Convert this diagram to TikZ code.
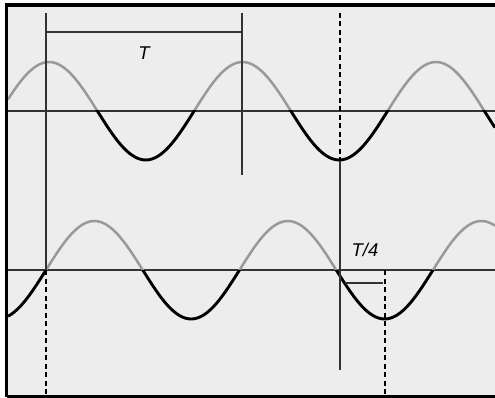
\documentclass[tikz,border=0pt]{standalone}
\usepackage{fontspec}
\setmainfont{Liberation Sans}
\usetikzlibrary{calc}

\definecolor{screenbg}{HTML}{EDEDED}
\definecolor{wavegray}{HTML}{999999}

\begin{document}
\begin{tikzpicture}[
    x=1pt, y=-1pt,
    frame/.style={draw=black, line width=3pt},
    axis/.style={draw=black!80, line width=1.3pt},
    marker/.style={draw=black!80, line width=1.3pt},
    guide/.style={draw=black, line width=1.3pt, dash pattern=on 5pt off 3.5pt},
    upper/.style={draw=wavegray, line width=2.5pt},
    lower/.style={draw=black, line width=2.9pt},
    lbl/.style={font=\fontsize{18.5}{21}\selectfont\itshape, inner sep=0pt}
]
    \useasboundingbox (0,0) rectangle (495,398);
    \fill [screenbg] (6,5) rectangle (495,396);

    % zero lines
    \coordinate (topL) at (8,111);
    \coordinate (topR) at (495,111);
    \coordinate (botL) at (8,270);
    \coordinate (botR) at (495,270);
    \draw [axis] (topL) -- (topR);
    \draw [axis] (botL) -- (botR);

    % upper wave, grey above and black below its line
    \begin{scope}
        \clip (0,0) rectangle (495,111);
        \draw [upper] plot [domain=8:495, samples=160, smooth] (\x,{111-49*cos((\x-49)/193.5*360)});
    \end{scope}
    \begin{scope}
        \clip (0,111) rectangle (495,398);
        \draw [lower] plot [domain=8:495, samples=160, smooth] (\x,{111-49*cos((\x-49)/193.5*360)});
    \end{scope}

    % lower wave
    \begin{scope}
        \clip (0,0) rectangle (495,270);
        \draw [upper] plot [domain=8:495, samples=160, smooth] (\x,{270-49*sin((\x-46)/193.5*360)});
    \end{scope}
    \begin{scope}
        \clip (0,270) rectangle (495,398);
        \draw [lower] plot [domain=8:495, samples=160, smooth] (\x,{270-49*sin((\x-46)/193.5*360)});
    \end{scope}

    % period marks
    \coordinate (startT) at (46,13);
    \coordinate (startZ) at (46,270);
    \coordinate (startB) at (46,395);
    \coordinate (endT) at (242,13);
    \coordinate (endB) at (242,175);
    \draw [marker] (startT) -- (startZ);
    \draw [guide] (startZ) -- (startB);
    \draw [marker] (endT) -- (endB);
    \draw [marker] (46,32) -- (242,32);
    \node [lbl] (period) at (144,53) {T};

    % quarter period marks
    \coordinate (troughT) at (340,13);
    \coordinate (troughM) at (340,161);
    \coordinate (troughB) at (340,370);
    \coordinate (lagZ) at (385,270);
    \coordinate (lagB) at (385,395);
    \draw [guide] (troughT) -- (troughM);
    \draw [marker] (troughM) -- (troughB);
    \draw [guide] (lagZ) -- (lagB);
    \draw [marker] (345,283) -- (383,283);
    \node [lbl] (quarter) at (365,250) {T/4};

    % screen frame
    \draw [frame, line width=3.5pt] (495,5) -- (6.5,5) -- (6.5,396.5);
    \draw [frame, line width=2.5pt] (6.5,396.5) -- (495,396.5);
\end{tikzpicture}
\end{document}
